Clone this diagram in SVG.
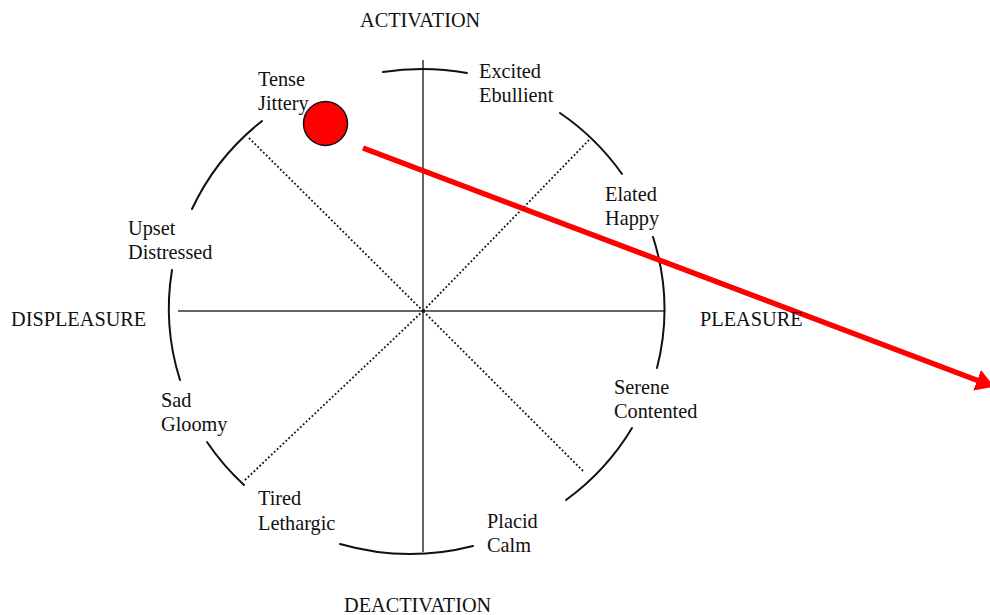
<svg xmlns="http://www.w3.org/2000/svg" width="990" height="615" viewBox="0 0 990 615">
<defs>
<style>
.lbl{font-family:"Liberation Serif","Times New Roman",serif;font-size:20.3px;fill:#111}
.arc{fill:none;stroke:#111;stroke-width:2;stroke-linecap:round}
.axis{stroke:#333;stroke-width:1.5}
.diag{stroke:#111;stroke-width:1.8;stroke-dasharray:1.8 2.2}
</style>
<marker id="ah" viewBox="0 0 18 22" refX="2" refY="11" markerWidth="18" markerHeight="22" markerUnits="userSpaceOnUse" orient="auto">
<path d="M0,0 L18,11 L0,22 Z" fill="#ff0000"/>
</marker>
</defs>
<rect width="990" height="615" fill="#ffffff"/>
<g id="connectors">
<line class="axis" x1="423" y1="60" x2="423" y2="552"/>
<line class="axis" x1="178" y1="311" x2="664" y2="311"/>
<line class="diag" x1="249" y1="138" x2="423" y2="311"/>
<line class="diag" x1="589" y1="140" x2="423" y2="311"/>
<line class="diag" x1="583" y1="471" x2="423" y2="311"/>
<line class="diag" x1="245" y1="480" x2="423" y2="311"/>
<path class="arc" d="M383,72 A248,242 0 0 1 467,73"/>
<path class="arc" d="M560,113 A248,242 0 0 1 622,174"/>
<path class="arc" d="M653,237 A248,242 0 0 1 657,368"/>
<path class="arc" d="M632,428 A248,242 0 0 1 566,500"/>
<path class="arc" d="M473,546 A248,242 0 0 1 340,544"/>
<path class="arc" d="M244,485 A248,242 0 0 1 207,442"/>
<path class="arc" d="M180,380 A248,242 0 0 1 172,270"/>
<path class="arc" d="M192,209 A248,242 0 0 1 262,121"/>
<line x1="363" y1="148" x2="979" y2="381" stroke="#ff0000" stroke-width="5.5" marker-end="url(#ah)"/>
</g>
<g id="marker-dot">
<circle cx="325.5" cy="123.5" r="22" fill="#ff0000" stroke="#111" stroke-width="1.5"/>
</g>
<g id="axis-labels">
<text class="lbl" x="360" y="27">ACTIVATION</text>
<text class="lbl" x="344" y="612">DEACTIVATION</text>
<text class="lbl" x="11" y="326">DISPLEASURE</text>
<text class="lbl" x="700" y="326">PLEASURE</text>
</g>
<g id="tense"><text class="lbl" x="258" y="86">Tense</text><text class="lbl" x="258" y="110">Jittery</text></g>
<g id="excited"><text class="lbl" x="479" y="78">Excited</text><text class="lbl" x="479" y="102">Ebullient</text></g>
<g id="elated"><text class="lbl" x="605" y="201">Elated</text><text class="lbl" x="605" y="225">Happy</text></g>
<g id="upset"><text class="lbl" x="128" y="235">Upset</text><text class="lbl" x="128" y="259">Distressed</text></g>
<g id="serene"><text class="lbl" x="614" y="394">Serene</text><text class="lbl" x="614" y="418">Contented</text></g>
<g id="sad"><text class="lbl" x="161" y="407">Sad</text><text class="lbl" x="161" y="431">Gloomy</text></g>
<g id="tired"><text class="lbl" x="258" y="505">Tired</text><text class="lbl" x="258" y="530">Lethargic</text></g>
<g id="placid"><text class="lbl" x="487" y="528">Placid</text><text class="lbl" x="487" y="552">Calm</text></g>
</svg>
